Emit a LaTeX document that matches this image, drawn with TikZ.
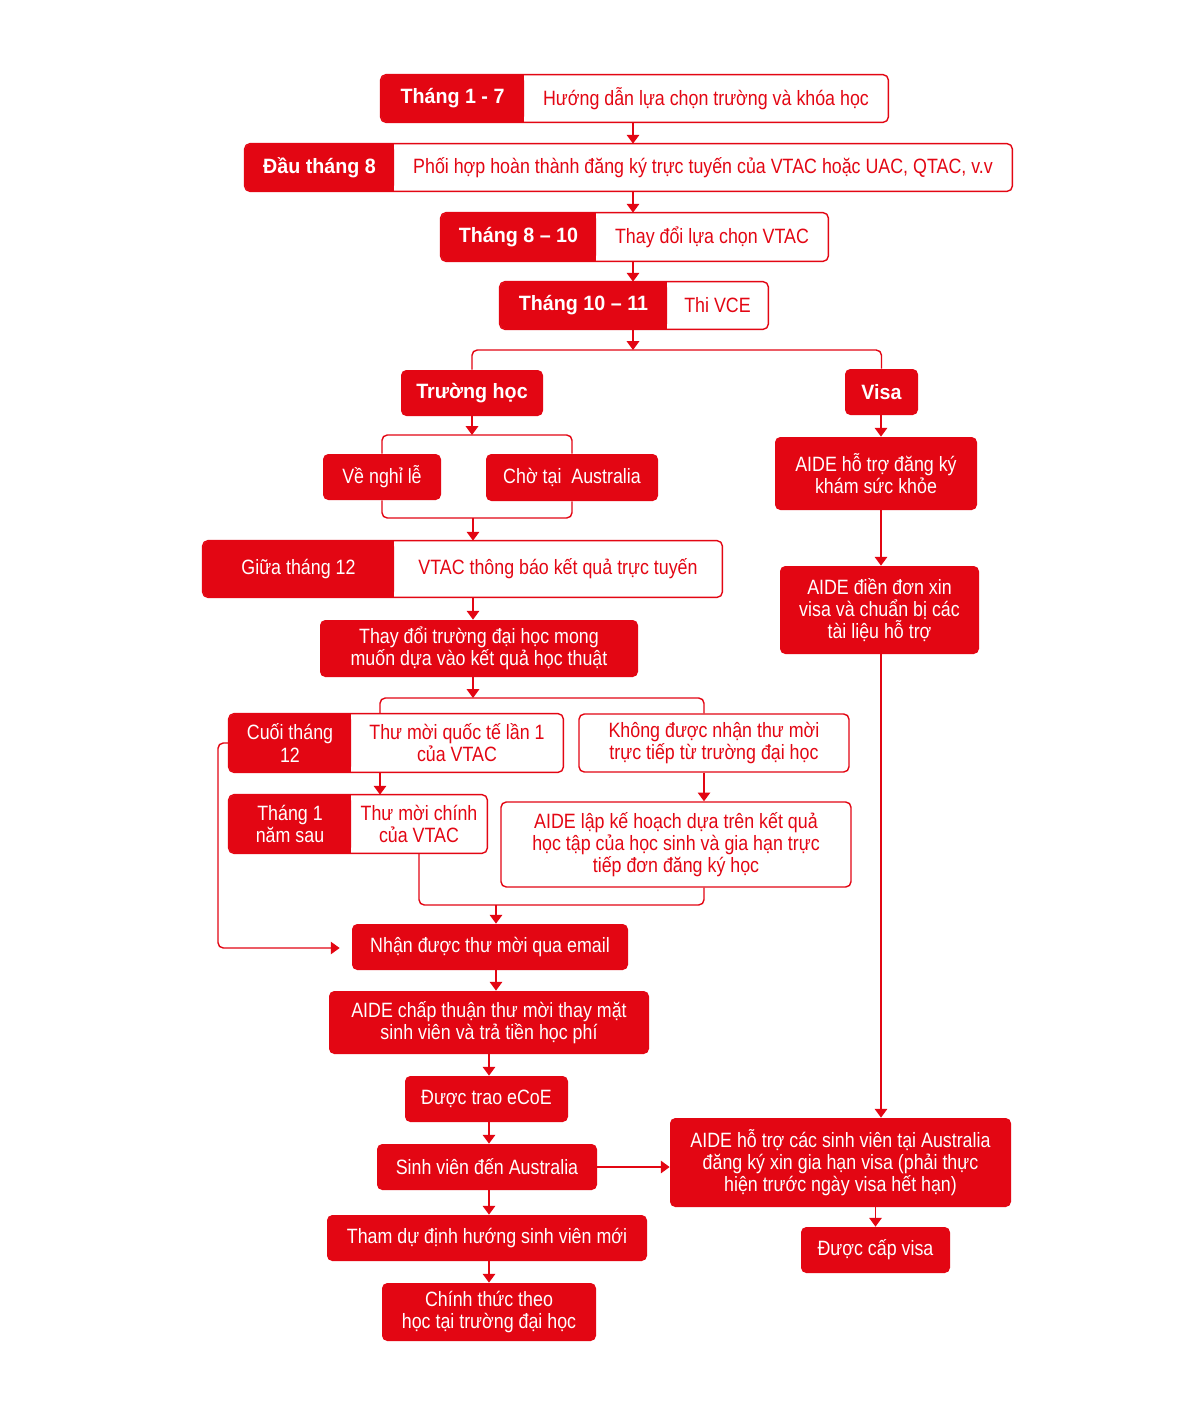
\documentclass[tikz,border=0pt]{standalone}
\usepackage{fontspec}
\setmainfont{Liberation Sans}[FakeStretch=0.86, BoldFeatures={FakeStretch=0.95}]
\usepackage{tikz}
\usetikzlibrary{arrows.meta}
\usetikzlibrary{backgrounds}
\definecolor{aidered}{HTML}{E30613}

\begin{document}
\begin{tikzpicture}[x=0.02cm, y=-0.02cm,
    font=\fontsize{11.8}{12.6}\selectfont,
    dims/.style 2 args={minimum width=#1*0.02cm, minimum height=#2*0.02cm, inner sep=0pt},
    redbox/.style={fill=aidered, text=white, rounded corners=3pt, align=center},
    tag/.style={redbox, font=\fontsize{11.8}{12.6}\selectfont\bfseries},
    info/.style={text=aidered, align=center},
    whitebox/.style={draw=aidered, line width=0.8pt, fill=white, text=aidered, rounded corners=3pt, align=center},
    frame/.style={draw=aidered, line width=0.8pt, rounded corners=3pt},
    arr/.style={aidered, line width=1.1pt, -{Triangle[width=7pt,length=5pt]}},
    link/.style={aidered, line width=0.8pt, rounded corners=3pt}]

    \useasboundingbox (0,0) rectangle (1200,1404);

    % timeline
    \node[tag, dims={143}{47}] (m1t) at (452.5,98.5) {Tháng 1 - 7};
    \node[info, dims={364}{47}] (m1i) at (706,98.5) {Hướng dẫn lựa chọn trường và khóa học};
    \node[tag, dims={149}{47}] (m2t) at (319.5,167.5) {Đầu tháng 8};
    \node[info, dims={618}{47}] (m2i) at (703,167.5) {Phối hợp hoàn thành đăng ký trực tuyến của VTAC hoặc UAC, QTAC, v.v};
    \node[tag, dims={155}{48}] (m3t) at (518.5,237) {Tháng 8 – 10};
    \node[info, dims={232}{48}] (m3i) at (712,237) {Thay đổi lựa chọn VTAC};
    \node[tag, dims={167}{47}] (m4t) at (583.5,305.5) {Tháng 10 – 11};
    \node[info, dims={101}{47}] (m4i) at (717.5,305.5) {Thi VCE};

    % school side
    \node[tag, dims={142}{46}] (school) at (472,393) {Trường học};
    \node[redbox, dims={118}{46}] (home) at (382,477) {Về nghỉ lễ};
    \node[redbox, dims={172}{47}] (stay) at (572,477.5) {Chờ tại\ \ Australia};
    \node[redbox, dims={191}{56}] (midt) at (298.5,569) {Giữa tháng 12};
    \node[info, dims={328}{56}] (midi) at (558,569) {VTAC thông báo kết quả trực tuyến};
    \node[redbox, dims={318}{57}] (change) at (479,648.5) {Thay đổi trường đại học mong\\muốn dựa vào kết quả học thuật};
    \node[redbox, dims={122}{58}] (latet) at (290,743) {Cuối tháng\\12};
    \node[info, dims={212}{58}] (latei) at (457,743) {Thư mời quốc tế lần 1\\của VTAC};
    \node[whitebox, dims={270}{58}] (noinv) at (714,743) {Không được nhận thư mời\\trực tiếp từ trường đại học};
    \node[redbox, dims={122}{58}] (jant) at (290,824) {Tháng 1\\năm sau};
    \node[info, dims={136}{58}] (jani) at (419,824) {Thư mời chính\\của VTAC};
    \node[whitebox, dims={350}{85}] (plan) at (676,844.5) {AIDE lập kế hoạch dựa trên kết quả\\học tập của học sinh và gia hạn trực\\tiếp đơn đăng ký học};
    \node[redbox, dims={276}{46}] (email) at (490,947) {Nhận được thư mời qua email};
    \node[redbox, dims={320}{63}] (accept) at (489,1022.5) {AIDE chấp thuận thư mời thay mặt\\sinh viên và trả tiền học phí};
    \node[redbox, dims={163}{46}] (ecoe) at (486.5,1099) {Được trao eCoE};
    \node[redbox, dims={220}{46}] (arrive) at (487,1167) {Sinh viên đến Australia};
    \node[redbox, dims={320}{46}] (orient) at (487,1238) {Tham dự định hướng sinh viên mới};
    \node[redbox, dims={214}{58}] (study) at (489,1312) {Chính thức theo\\học tại trường đại học};

    % visa side
    \node[tag, dims={73}{46}] (visa) at (881.5,392) {Visa};
    \node[redbox, dims={202}{73}] (health) at (876,473.5) {AIDE hỗ trợ đăng ký\\khám sức khỏe};
    \node[redbox, dims={199}{88}] (apply) at (879.5,610) {AIDE điền đơn xin\\visa và chuẩn bị các\\tài liệu hỗ trợ};
    \node[redbox, dims={341}{89}] (extend) at (840.5,1162.5) {AIDE hỗ trợ các sinh viên tại Australia\\đăng ký xin gia hạn visa (phải thực\\hiện trước ngày visa hết hạn)};
    \node[redbox, dims={149}{46}] (granted) at (875.5,1250) {Được cấp visa};

    % square right edge of the tags, white page
    \begin{scope}[on background layer]
        \fill[white] (0,0) rectangle (1200,1404);
        \foreach \n in {m1t,m2t,m3t,m4t,midt,latet,jant} {
            \fill[aidered] (\n.north) rectangle (\n.south east);
        }
    \end{scope}
    \draw[frame] (m1t.north west) rectangle (m1i.south east);
    \draw[frame] (m2t.north west) rectangle (m2i.south east);
    \draw[frame] (m3t.north west) rectangle (m3i.south east);
    \draw[frame] (m4t.north west) rectangle (m4i.south east);
    \draw[frame] (midt.north west) rectangle (midi.south east);
    \draw[frame] (latet.north west) rectangle (latei.south east);
    \draw[frame] (jant.north west) rectangle (jani.south east);

    \coordinate (spine) at (633,350);
    \coordinate (hold) at (473,435);
    \coordinate (join) at (473,518);
    \coordinate (sl) at (380,698);
    \coordinate (sr) at (704,698);
    \coordinate (merge) at (496,905);
    \coordinate (loop) at (218,948);
    \coordinate (col) at (489,0);
    \coordinate (rc) at (881,0);

    \draw[arr] (spine |- m1i.south) -- (spine |- m2i.north);
    \draw[arr] (spine |- m2i.south) -- (spine |- m3i.north);
    \draw[arr] (spine |- m3i.south) -- (spine |- m4i.north);
    \draw[arr] (spine |- m4i.south) -- (spine);
    \draw[link] (school.north) -- (school.north |- spine) -- (visa.north |- spine) -- (visa.north);

    \draw[arr] (school.south) -- (school.south |- hold);
    \draw[link] (home.north) -- (home.north |- hold) -- (stay.north |- hold) -- (stay.north);
    \draw[link] (home.south) -- (home.south |- join) -- (stay.south |- join) -- (stay.south);
    \draw[arr] (join) -- (join |- midi.north);
    \draw[arr] (hold |- midi.south) -- (hold |- change.north);
    \draw[arr] (hold |- change.south) -- (hold |- sl);
    \draw[link] (sl |- latei.north) -- (sl) -- (sr) -- (sr |- noinv.north);
    \draw[arr] (sl |- latei.south) -- (sl |- jani.north);
    \draw[arr] (sr |- noinv.south) -- (sr |- plan.north);
    \draw[link] (jani.south) -- (jani.south |- merge) -- (sr |- merge) -- (sr |- plan.south);
    \draw[arr] (merge) -- (merge |- email.north);
    \draw[link, -{Triangle[width=7pt,length=5pt]}, shorten >=0.24cm] (latet.west) -| (loop) -- (loop -| email.west);

    \draw[arr] (merge |- email.south) -- (merge |- accept.north);
    \draw[arr] (col |- accept.south) -- (col |- ecoe.north);
    \draw[arr] (col |- ecoe.south) -- (col |- arrive.north);
    \draw[arr] (col |- arrive.south) -- (col |- orient.north);
    \draw[arr] (col |- orient.south) -- (col |- study.north);
    \draw[arr] (arrive.east) -- (arrive.east -| extend.west);

    \draw[arr] (rc |- visa.south) -- (rc |- health.north);
    \draw[arr] (rc |- health.south) -- (rc |- apply.north);
    \draw[arr] (rc |- apply.south) -- (rc |- extend.north);
    \draw[arr] (extend.south -| granted) -- (granted.north);

\end{tikzpicture}
\end{document}
